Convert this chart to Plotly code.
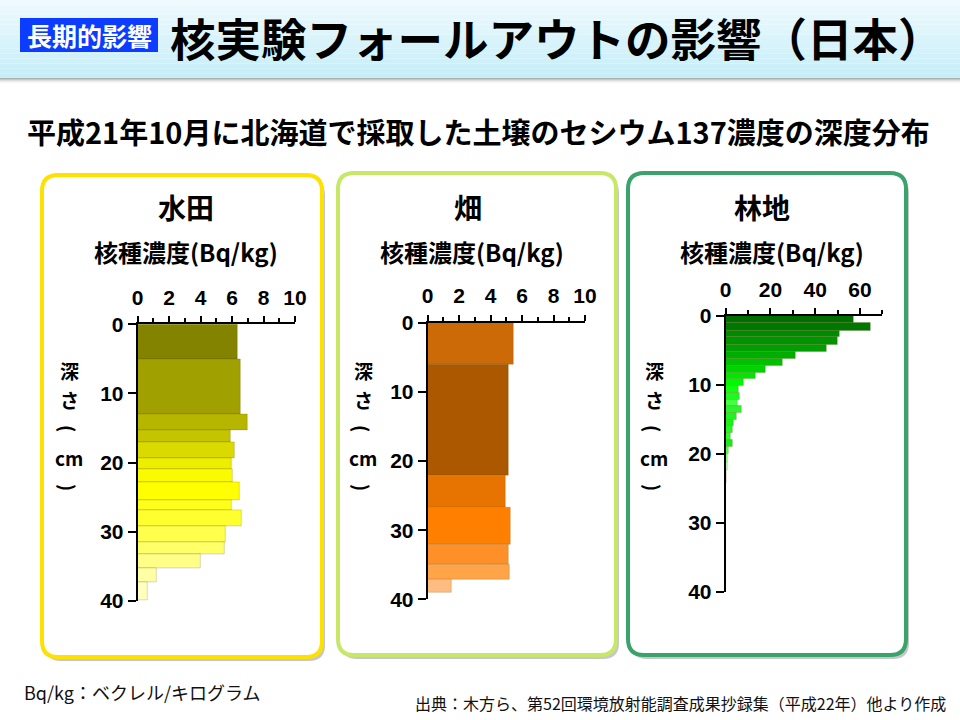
import plotly.graph_objects as go

W, H = 960, 720

# ---------------- data ----------------
paddy_edges = [0, 5, 13, 15.4, 17.1, 19.4, 21, 22.8, 25.4, 26.9, 29.3, 31.5, 33.3, 35.3, 37.3, 40]
paddy_conc = [6.33, 6.55, 7.0, 5.9, 6.17, 6.0, 6.06, 6.48, 6.0, 6.63, 5.6, 5.55, 4.03, 1.23, 0.64]
paddy_colors = ['#838300', '#a0a000', '#b6b600', '#c4c400', '#dada00', '#eeee00', '#fbfb00',
                '#ffff00', '#ffff1c', '#ffff30', '#ffff4c', '#ffff68', '#ffff88', '#ffffa6', '#ffffc0']

field_edges = [0, 6.1, 22.1, 26.7, 32.1, 35.0, 37.2, 39.1]
field_conc = [5.44, 5.15, 4.96, 5.30, 5.15, 5.23, 1.55]
field_colors = ['#cc6a08', '#ab5800', '#e87400', '#ff8000', '#ff9028', '#ffa448', '#ffbc80']

forest_edges = [0, 1.0, 2.2, 3.0, 4.25, 5.2, 6.3, 7.2, 8.2, 9.2, 10.2, 11.2, 12.2, 13.0,
                14.1, 15.1, 16.0, 17.0, 17.9, 19.0, 20.0, 21.2, 22.3, 24.2]
forest_conc = [57.3, 64.9, 50.7, 49.9, 45.1, 31.4, 25.3, 17.7, 13.2, 7.9, 5.9, 6.4, 5.5, 7.0,
               4.9, 3.4, 3.0, 2.2, 3.0, 1.5, 1.0, 0.7, 0.6]
forest_colors = ['#006e00', '#007800', '#008a00', '#009400', '#009e00', '#00ae00', '#00c000',
                 '#00d400', '#00e800', '#00f800', '#10ff10', '#20f820', '#44ff44', '#30f030',
                 '#20f420', '#1cf01c', '#22f822', '#28ff28', '#1ce81c', '#50ff50', '#90ff90',
                 '#b4ffb4', '#d4ffd4']

panel_titles = ['水田', '畑', '林地']
x_title = '核種濃度(Bq/kg)'
depth_ticks = [0, 10, 20, 30, 40]

# ---------------- layout geometry (pixels) ----------------
panels = [
    dict(edges=paddy_edges, conc=paddy_conc, colors=paddy_colors,
         px=(137.7, 295.0), py=(324.3, 600.7), xr=[0, 10], dt=2, mdt=1,
         frame=(42, 175, 322, 657), border='#ffe100', cx=186, ytx=69, axcx=186),
    dict(edges=field_edges, conc=field_conc, colors=field_colors,
         px=(427.7, 585.0), py=(322.7, 599.3), xr=[0, 10], dt=2, mdt=1,
         frame=(338, 173, 616, 655), border='#c6e866', cx=468, ytx=363, axcx=472),
    dict(edges=forest_edges, conc=forest_conc, colors=forest_colors,
         px=(725.7, 882.4), py=(316.0, 592.0), xr=[0, 70], dt=20, mdt=10,
         frame=(628, 173, 906, 655), border='#3aa36c', cx=762, ytx=654, axcx=772),
]


def X(p):
    return p / W


def Y(p):
    return 1 - p / H


def rrect(x0, y0, x1, y1, r):
    pts = [
        f"M{X(x0 + r)},{Y(y0)}", f"L{X(x1 - r)},{Y(y0)}", f"Q{X(x1)},{Y(y0)} {X(x1)},{Y(y0 + r)}",
        f"L{X(x1)},{Y(y1 - r)}", f"Q{X(x1)},{Y(y1)} {X(x1 - r)},{Y(y1)}",
        f"L{X(x0 + r)},{Y(y1)}", f"Q{X(x0)},{Y(y1)} {X(x0)},{Y(y1 - r)}",
        f"L{X(x0)},{Y(y0 + r)}", f"Q{X(x0)},{Y(y0)} {X(x0 + r)},{Y(y0)}", "Z"]
    return " ".join(pts)


def ann(x, y, text, font, xanchor='center', yanchor='middle', angle=0):
    return dict(x=X(x), y=Y(y), xref='paper', yref='paper', text=text, showarrow=False,
                xanchor=xanchor, yanchor=yanchor, textangle=angle, font=font)


fig = go.Figure()
shapes = []
annotations = []
JP = "Noto Sans CJK JP"
NUM = "Liberation Sans"

# header background gradient
n = 16
for i in range(n):
    t = i / (n - 1)
    c0 = (238, 250, 253)
    c1 = (198, 238, 249)
    col = tuple(int(c0[k] + (c1[k] - c0[k]) * t) for k in range(3))
    shapes.append(dict(type='rect', xref='paper', yref='paper', x0=0, x1=1,
                       y0=Y(78 * (i + 1) / n), y1=Y(78 * i / n), fillcolor='rgb%s' % (col,),
                       line=dict(width=0), layer='below'))
# header shadow
for i, a in enumerate([0.45, 0.32, 0.2, 0.1, 0.05]):
    shapes.append(dict(type='rect', xref='paper', yref='paper', x0=0, x1=1,
                       y0=Y(79 + i), y1=Y(78 + i), fillcolor=f'rgba(80,80,80,{a})',
                       line=dict(width=0), layer='below'))
# badge
shapes.append(dict(type='rect', xref='paper', yref='paper', x0=X(20), x1=X(158), y0=Y(52), y1=Y(18),
                   fillcolor='#0b3cff', line=dict(width=0), layer='below'))
annotations.append(ann(89, 35, '長期的影響', dict(family=JP, size=25, color='white', weight='bold')))
annotations.append(ann(168, 37, '核実験フォールアウトの影響（日本）',
                       dict(family=JP, size=45.5, color='black', weight='bold'), xanchor='left'))
annotations.append(ann(478, 131, '平成21年10月に北海道で採取した土壌のセシウム137濃度の深度分布',
                       dict(family=JP, size=29, color='black', weight='bold')))

for i, p in enumerate(panels):
    fx0, fy0, fx1, fy1 = p['frame']
    # shadow
    shapes.append(dict(type='path', xref='paper', yref='paper', path=rrect(fx0 + 3, fy0 + 4, fx1 + 3, fy1 + 4, 16),
                       fillcolor='rgba(0,0,0,0.22)', line=dict(width=0), layer='below'))
    shapes.append(dict(type='path', xref='paper', yref='paper', path=rrect(fx0, fy0, fx1, fy1, 16),
                       fillcolor='white', line=dict(color=p['border'], width=4), layer='below'))

    edges = p['edges']
    centers = [(edges[k] + edges[k + 1]) / 2 for k in range(len(p['conc']))]
    widths = [edges[k + 1] - edges[k] for k in range(len(p['conc']))]
    sx = '' if i == 0 else str(i + 1)
    fig.add_trace(go.Bar(x=p['conc'], y=centers, width=widths, orientation='h',
                         marker=dict(color=p['colors'], line=dict(color='rgba(90,70,0,0.25)', width=0.8)),
                         xaxis='x' + sx, yaxis='y' + sx, showlegend=False, hoverinfo='skip'))
    axfont = dict(family=NUM, size=21, color='black', weight='bold')
    fig.update_layout(**{
        'xaxis' + sx: dict(domain=[X(p['px'][0]), X(p['px'][1])], range=p['xr'], side='top',
                           anchor='y' + sx, showgrid=False, zeroline=False, showline=True,
                           linecolor='black', linewidth=2, ticks='outside', ticklen=6, tickwidth=2,
                           tickcolor='black', dtick=p['dt'], tick0=0, tickfont=axfont,
                           ticklabelstandoff=3, automargin=False,
                           minor=dict(dtick=p['mdt'], ticks='outside', ticklen=4, tickwidth=1.5,
                                      tickcolor='black', showgrid=False)),
        'yaxis' + sx: dict(domain=[Y(p['py'][1]), Y(p['py'][0])], range=[40, 0], anchor='x' + sx,
                           showgrid=False, zeroline=False, showline=True, linecolor='black',
                           linewidth=2, ticks='outside', ticklen=8, tickwidth=2, tickcolor='black',
                           tickvals=depth_ticks, tickfont=axfont, automargin=False),
    })
    annotations.append(ann(p['cx'], 207, panel_titles[i], dict(family=JP, size=28, color='black', weight='bold')))
    annotations.append(ann(p['axcx'], 252, x_title, dict(family=JP, size=24, color='black', weight='bold')))
    # vertical depth label
    vfont = dict(family=JP, size=19, color='black', weight='bold')
    for txt, yy, ang in [('深', 371, 0), ('さ', 399, 0), ('(', 428, 90), ('cm', 457, 0), (')', 487, 90)]:
        annotations.append(ann(p['ytx'], yy, txt, vfont, angle=ang))

annotations.append(ann(22, 692, 'Bq/kg：ベクレル/キログラム', dict(family=JP, size=18, color='#111111'),
                       xanchor='left'))
annotations.append(ann(948, 703, '出典：木方ら、第52回環境放射能調査成果抄録集（平成22年）他より作成',
                       dict(family=JP, size=16, color='#111111'), xanchor='right'))

fig.update_layout(width=W, height=H, margin=dict(l=0, r=0, t=0, b=0, pad=0, autoexpand=False),
                  paper_bgcolor='white', plot_bgcolor='rgba(0,0,0,0)',
                  shapes=shapes, annotations=annotations, bargap=0)

fig.write_html("out.html")
